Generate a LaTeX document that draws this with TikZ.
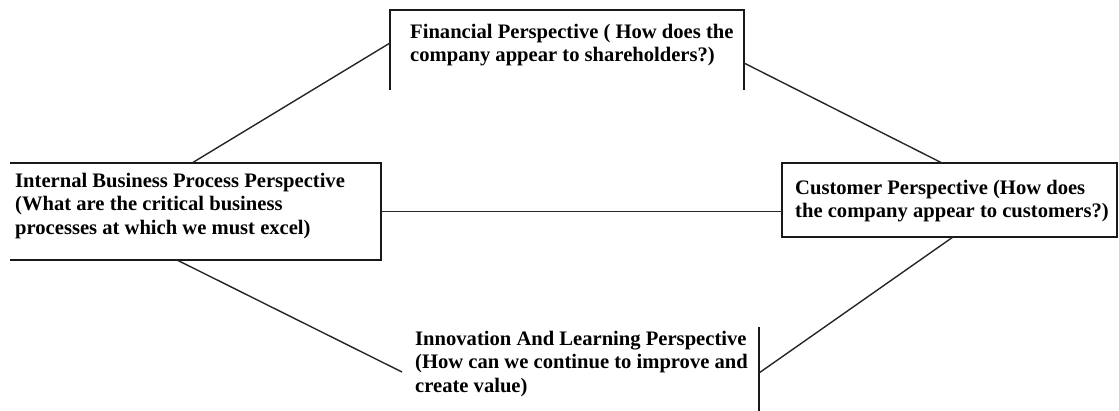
\documentclass[tikz,border=0pt]{standalone}
\usepackage{fontspec}
\setmainfont{Liberation Serif}
\usetikzlibrary{calc}
\begin{document}
\begin{tikzpicture}[x=1pt,y=-1pt,
  frame/.style={draw=none,minimum width=#1,inner sep=0pt,outer sep=0pt},
  edge/.style={line width=1.6pt,black!90},
  link/.style={line width=1.4pt,black!85},
  label/.style={anchor=north west,inner sep=0pt,align=left,
    font=\fontsize{20.6}{23.5}\selectfont\bfseries}]
\useasboundingbox (0,0) rectangle (1119,411);

% frames of the four perspectives
\node[frame=354pt,minimum height=80pt]  (fin)   at (567,50)    {};
\node[frame=371pt,minimum height=97pt]  (int)   at (195.5,211.5) {};
\node[frame=335pt,minimum height=74pt]  (cust)  at (949.5,200) {};
\node[frame=357pt,minimum height=86pt]  (innov) at (580.5,368) {};

% visible sides of each frame
\draw[edge] (fin.south west) -- (fin.north west) -- (fin.north east) -- (fin.south east);
\draw[edge] (int.north west) -- (int.north east) -- (int.south east) -- (int.south west);
\draw[edge] (cust.north west) rectangle (cust.south east);
\draw[edge] ([yshift=-2pt]innov.north east) -- (innov.south east);

% texts
\node[label] (finT)   at (410,24)  {Financial Perspective ( How does the\\company appear to shareholders?)};
\node[label] (intT)   at (15,173)  {Internal Business Process Perspective\\(What are the critical business\\processes at which we must excel)};
\node[label] (custT)  at (795,180) {Customer Perspective (How does\\the company appear to customers?)};
\node[label] (innovT) at (415,331) {Innovation And Learning Perspective\\(How can we continue to improve and\\create value)};

% connectors
\draw[link] ([yshift=-33pt]fin.north west) -- ([xshift=182pt]int.north west);
\draw[link] ([yshift=-53pt]fin.north east) -- ([xshift=160pt]cust.north west);
\draw[link] (int.east) -- (int.east -| cust.west);
\draw[link] ([xshift=167pt]int.south west) -- ([yshift=-4pt]innov.west);
\draw[link] ([xshift=171pt]cust.south west) -- ([yshift=-5pt]innov.east);
\end{tikzpicture}
\end{document}
